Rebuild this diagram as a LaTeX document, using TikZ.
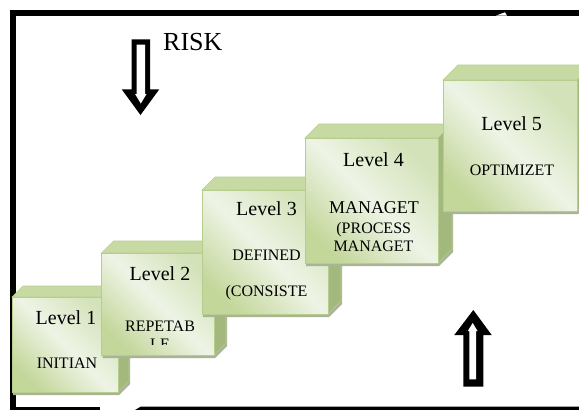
\documentclass[tikz,border=0pt]{standalone}
\usepackage{fontspec}
\setmainfont{Liberation Serif}
\definecolor{frontdark}{HTML}{C4D79B}
\definecolor{frontmid}{HTML}{D3E2B8}
\definecolor{frontlight}{HTML}{EEF4E6}
\definecolor{topface}{HTML}{C8DAA4}
\definecolor{sideface}{HTML}{A2B87C}
\definecolor{edgec}{HTML}{B7CD8E}
\definecolor{shadowc}{HTML}{A9B497}
\tikzset{
  frontface/.style={rectangle, inner sep=0pt, outer sep=0pt, draw=edgec, line width=0.7pt,
    shading=axis, top color=frontmid, bottom color=frontdark, middle color=frontlight, shading angle=-45},
  facetop/.style={fill=topface, draw=edgec, line width=0.6pt},
  faceside/.style={fill=sideface, draw=edgec, line width=0.6pt},
  lvltext/.style={font=\fontsize{20}{24}\selectfont, anchor=base, inner sep=0pt},
  capstext/.style={font=\fontsize{16}{18}\selectfont, anchor=base, inner sep=0pt},
  bigcaps/.style={font=\fontsize{18}{20}\selectfont, anchor=base, inner sep=0pt},
  risktext/.style={font=\fontsize{26}{30}\selectfont, anchor=base west, inner sep=0pt},
}
% name, x0, y0, x1, y1, depth
\newcommand\stairbox[6]{%
  \fill[shadowc] (#2+1,#3+3) -- (#2+1+#6,#3+3-#6) -- (#4+1+#6,#3+3-#6) -- (#4+1+#6,#5+3-#6) -- (#4+1,#5+3) -- (#2+1,#5+3) -- cycle;
  \path[facetop] (#2,#3) -- (#2+#6,#3-#6) -- (#4+#6,#3-#6) -- (#4,#3) -- cycle;
  \path[faceside] (#4,#3) -- (#4+#6,#3-#6) -- (#4+#6,#5-#6) -- (#4,#5) -- cycle;
  \node[frontface, minimum width=#4-#2, minimum height=#5-#3] (#1) at ({(#2+#4)/2},{(#3+#5)/2}) {};
}
\begin{document}
\begin{tikzpicture}[x=1pt,y=-1pt]
\useasboundingbox (0,0) rectangle (579,410);
\fill[white] (0,0) rectangle (579,410);
% frame
\fill[black] (10,9.5) rectangle (579,15.5);
\fill[black] (10,10) rectangle (16,410);
\fill[black] (10,406.5) rectangle (100,410);
\fill[black] (135,410) -- (141,406.5) -- (579,406.5) -- (579,410) -- cycle;
\fill[white] (496,15.6) -- (505,12.3) -- (507,15.6) -- cycle;
% boxes
\stairbox{b1}{12}{297}{118}{392}{11}
\stairbox{b2}{101.5}{253}{214}{355}{12}
\stairbox{b3}{202}{190}{328}{314}{13}
\stairbox{b4}{305}{138}{438}{263}{14}
\stairbox{b5}{443}{80}{577}{211}{15}
% texts
\node[lvltext] (t1a) at (66,324) {Level 1};
\node[capstext] (t1b) at (67,368) {INITIAN};
\node[lvltext] (t2a) at (160,280) {Level 2};
\node[capstext] (t2b) at (160,331) {REPETAB};
\begin{scope}
  \clip (110,335) rectangle (210,344);
  \node[capstext] (t2c) at (160,349) {LE};
\end{scope}
\node[lvltext] (t3a) at (266.5,215) {Level 3};
\node[capstext] (t3b) at (266.5,260.7) {DEFINED};
\node[capstext] (t3c) at (266.5,296.7) {(CONSISTE};
\node[lvltext] (t4a) at (373.5,166.7) {Level 4};
\node[bigcaps] (t4b) at (374,213.3) {MANAGET};
\node[capstext] (t4c) at (373.7,233.3) {(PROCESS};
\node[capstext] (t4d) at (373.5,251.7) {MANAGET};
\node[lvltext] (t5a) at (511.7,130) {Level 5};
\node[capstext] (t5b) at (512,175) {OPTIMIZET};
\node[risktext] (risk) at (163,50) {RISK};
% down arrow
\fill[black] (131.7,39.3) -- (150,39.3) -- (150,89.3) -- (159.3,89.3) -- (140.5,115) -- (121.7,89.3) -- (131.7,89.3) -- cycle;
\fill[white] (136.7,44.5) -- (145,44.5) -- (145,94) -- (146.5,94) -- (140.8,103.5) -- (135.1,94) -- (136.7,94) -- cycle;
% up arrow
\fill[black] (473.3,310) -- (491.7,335) -- (483.3,335) -- (483.3,386.7) -- (463.3,386.7) -- (463.3,335) -- (454.3,335) -- cycle;
\fill[white] (472.7,323) -- (477.5,331) -- (476,331) -- (476,379.3) -- (469.3,379.3) -- (469.3,331) -- (467.8,331) -- cycle;
\end{tikzpicture}
\end{document}
